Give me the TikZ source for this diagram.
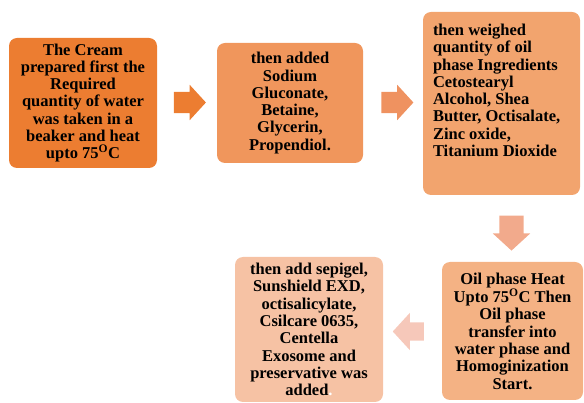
\documentclass[tikz,border=0pt]{standalone}
\usepackage{fontspec}
\setmainfont{Liberation Serif}
\usetikzlibrary{shapes.arrows}
\definecolor{stepA}{RGB}{236,125,49}
\definecolor{stepB}{RGB}{240,150,92}
\definecolor{stepC}{RGB}{242,164,110}
\definecolor{stepD}{RGB}{244,178,132}
\definecolor{stepE}{RGB}{246,194,164}
\definecolor{arrB}{RGB}{239,146,96}
\definecolor{arrC}{RGB}{242,170,140}
\definecolor{arrD}{RGB}{246,200,186}
\begin{document}
\begin{tikzpicture}
[
  x=1pt, y=-1pt,
	box/.style={rounded corners=8pt,inner sep=0pt,align=center,
	  font=\fontsize{16.5}{17.3}\selectfont\bfseries},
	blockarrow/.style={single arrow,inner xsep=0pt,inner ysep=10.5pt,minimum height=32pt,
	  single arrow head extend=7pt,single arrow tip angle=95}
]
\useasboundingbox (0,0) rectangle (584,403);

\node (cream) at(83,103) [box,fill=stepA,minimum width=148pt,minimum height=130pt]
  {The Cream\\prepared first the\\Required\\quantity of water\\was taken in a\\beaker and heat\\upto 75\textsuperscript{O}C};

\node (sodium) at(290,103) [box,fill=stepB,minimum width=146pt,minimum height=120pt]
  {then added\\Sodium\\Gluconate,\\Betaine,\\Glycerin,\\Propendiol.};

\node (oil) at(501.5,103.5) [box,fill=stepC,minimum width=157pt,minimum height=183pt] {};
\node (oiltext) at([shift={(10,12)}]oil.north west) [box,anchor=north west,align=left]
  {then weighed\\quantity of oil\\phase Ingredients\\Cetostearyl\\Alcohol, Shea\\Butter, Octisalate,\\Zinc oxide,\\Titanium Dioxide};

\node (heat) at(512.5,331) [box,fill=stepD,minimum width=141pt,minimum height=138pt]
  {Oil phase Heat\\Upto 75\textsuperscript{O}C Then\\Oil phase\\transfer into\\water phase and\\Homoginization\\Start.};

\node (sepigel) at(309,329.5) [box,fill=stepE,minimum width=148pt,minimum height=145pt]
  {then add sepigel,\\Sunshield EXD,\\octisalicylate,\\Csilcare 0635,\\Centella\\Exosome and\\preservative was\\added{\color{white}.}};

\node (a1) at(185,102.5) [blockarrow,fill=stepA] {};
\node (a2) at(392.5,102.5) [blockarrow,fill=arrB] {};
\node (a3) at(511.5,227.5) [blockarrow,fill=arrC,rotate=-90,inner ysep=12pt,
  single arrow head extend=6.5pt,minimum height=35pt] {};
\node (a4) at(412.5,331.5) [blockarrow,fill=arrD,rotate=180,inner ysep=9pt,
  single arrow head extend=9.5pt,minimum height=31pt] {};

\end{tikzpicture}
\end{document}
